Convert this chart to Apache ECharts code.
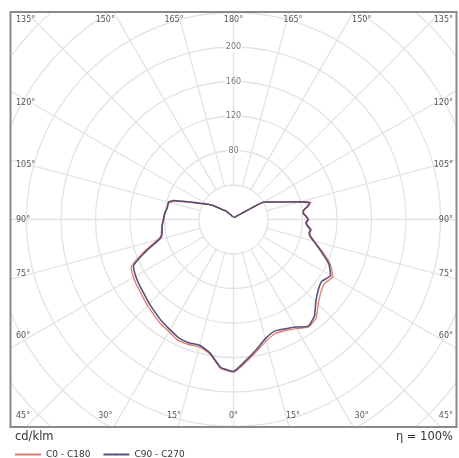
<!DOCTYPE html>
<html>
<head>
<meta charset="utf-8">
<script src="https://cdn.jsdelivr.net/npm/echarts@6/dist/echarts.min.js"></script>
<style>
  html, body { margin: 0; padding: 0; background: #fff; }
  #chart { width: 459px; height: 458px; }
</style>
</head>
<body>
<div id="chart"></div>
<script>
// Gamma angles in degrees, measured from nadir (0°) up to zenith (180°)
const gammaAngles = [0, 5, 10, 15, 20, 25, 30, 35, 40, 45, 50, 55, 60, 65, 70,
  75, 77.5, 80, 82.5, 85, 87.5, 90, 92.5, 95, 97.5, 100, 102.5, 105, 107.5, 110,
  112.5, 115, 117.5, 120, 122.5, 125, 130, 135, 140, 150, 160, 170, 180];

// Luminous intensity in cd/klm for each half-plane
const c0Values = [177, 166, 155, 146, 141, 142, 146, 152, 149, 139, 132, 129, 133, 124, 110,
  97, 92, 90, 91, 87, 85, 87, 85, 82, 82, 88, 92, 80, 68, 60,
  53, 48, 44, 40, 25, 15, 8.5, 6, 4.5, 3, 2.7, 2.5, 2.5];
const c180Values = [177, 173, 158, 153, 154, 154, 150, 147.5, 144, 141, 138, 136, 134, 131, 111,
  91, 86, 85, 84, 83.5, 82.5, 81.5, 81, 80, 79, 78, 78, 77, 70, 59,
  51, 44, 39, 35, 31, 27, 19, 15, 12, 6, 4, 3, 2.5];
const c90Values = [176, 164, 153, 143, 138, 140, 144, 151, 146, 135, 128, 125, 130, 122, 108,
  96, 91, 89, 90, 86, 84, 86.5, 84, 81, 82, 87, 90, 79, 67.5, 59.5,
  53, 48, 44, 40.5, 24, 14.5, 8.3, 6, 4.5, 3, 2.7, 2.5, 2.5];
const c270Values = [176, 172, 157, 151, 152, 151, 147.5, 144.5, 141, 138, 135, 133, 131, 128, 108,
  89, 85, 84, 83.5, 83, 82, 81, 80.5, 80, 79, 78, 78, 78, 73, 62,
  53, 45, 40, 36, 32, 28, 19, 15, 12, 6, 4, 3, 2.5];

const seriesNames = ['C0 - C180', 'C90 - C270'];
const seriesColors = ['#de7a72', '#47406f'];
const radiusTicks = [80, 120, 160, 200];
const topAngles = [135, 150, 165, 180];
const sideAngles = [120, 105, 90, 75, 60];
const bottomAngles = [45, 30, 15, 0];

// Layout
const W = 459, H = 458;
const box = { x0: 10.5, y0: 12, x1: 456.5, y1: 427 };
const cx = (box.x0 + box.x1) / 2;
const cy = (box.y0 + box.y1) / 2;
const pxPerUnit = 0.8625;
const rMax = 360;
const rOuter = rMax * pxPerUnit;
const rInner = 40 * pxPerUnit;
const lbl = { left: 16, right: 453, top: 19.5, bottom: 415.5, halfW: 202, halfH: 222 };
const labelFont = '8px "DejaVu Sans"';
const labelColor = '#555';

// Closed outline: right half (negative angle) from zenith down to nadir, then left half back up
function outline(rightVals, leftVals) {
  const pts = [];
  for (let i = gammaAngles.length - 1; i >= 0; i--) pts.push([rightVals[i], -gammaAngles[i]]);
  for (let i = 1; i < gammaAngles.length; i++) pts.push([leftVals[i], gammaAngles[i]]);
  return pts;
}

// Angle labels sit on the frame where each ray meets it
const angleLabels = [];
const deg = Math.PI / 180;
function rowLabel(g, y, fromVertical) {
  const off = lbl.halfH * Math.tan(fromVertical * deg);
  if (fromVertical === 0) {
    angleLabels.push({ text: g + '°', x: cx, y, align: 'center' });
    return;
  }
  [-1, 1].forEach(side => {
    if (fromVertical >= 45) {
      angleLabels.push({ text: g + '°', x: side < 0 ? lbl.left : lbl.right, y, align: side < 0 ? 'left' : 'right' });
    } else {
      angleLabels.push({ text: g + '°', x: cx + side * off, y, align: 'center' });
    }
  });
}
topAngles.forEach(g => rowLabel(g, lbl.top, 180 - g));
bottomAngles.forEach(g => rowLabel(g, lbl.bottom, g));
sideAngles.forEach(g => {
  const y = cy + lbl.halfW * Math.tan((90 - g) * deg);
  angleLabels.push({ text: g + '°', x: lbl.left, y, align: 'left' });
  angleLabels.push({ text: g + '°', x: lbl.right, y, align: 'right' });
});

const graphics = [
  // white frame masking the grid outside the plot box
  { type: 'rect', z: 10, silent: true, shape: { x: 0, y: 0, width: W, height: box.y0 }, style: { fill: '#fff' } },
  { type: 'rect', z: 10, silent: true, shape: { x: 0, y: box.y1, width: W, height: H - box.y1 }, style: { fill: '#fff' } },
  { type: 'rect', z: 10, silent: true, shape: { x: 0, y: 0, width: box.x0, height: H }, style: { fill: '#fff' } },
  { type: 'rect', z: 10, silent: true, shape: { x: box.x1, y: 0, width: W - box.x1, height: H }, style: { fill: '#fff' } },
  { type: 'rect', z: 11, silent: true,
    shape: { x: box.x0, y: box.y0, width: box.x1 - box.x0, height: box.y1 - box.y0 },
    style: { fill: null, stroke: '#8a8a8a', lineWidth: 2 } },
  { type: 'text', z: 12, x: 15, y: 437,
    style: { text: 'cd/klm', font: '11.5px "DejaVu Sans"', fill: '#333', textAlign: 'left', textVerticalAlign: 'middle' } },
  { type: 'text', z: 12, x: 453, y: 437,
    style: { text: 'η = 100%', font: '11.5px "DejaVu Sans"', fill: '#333', textAlign: 'right', textVerticalAlign: 'middle' } }
];
angleLabels.forEach(l => graphics.push({
  type: 'text', z: 12, x: l.x, y: l.y,
  style: { text: l.text, font: labelFont, fill: labelColor, textAlign: l.align, textVerticalAlign: 'middle' }
}));

const gridLine = { show: true, lineStyle: { color: '#e3e3e3', width: 1.3 } };
const hidden = { show: false };

const chart = echarts.init(document.getElementById('chart'), null, { renderer: 'canvas' });
chart.setOption({
  backgroundColor: '#fff',
  animation: false,
  textStyle: { fontFamily: 'DejaVu Sans' },
  polar: [
    { center: [cx, cy], radius: [rInner, rOuter] },
    { center: [cx, cy], radius: [0, rOuter] }
  ],
  angleAxis: [
    { polarIndex: 0, type: 'value', min: -180, max: 180, interval: 15, startAngle: 90, clockwise: true,
      axisLine: hidden, axisTick: hidden, axisLabel: hidden, splitLine: gridLine },
    { polarIndex: 1, type: 'value', min: -180, max: 180, interval: 15, startAngle: 90, clockwise: true,
      axisLine: hidden, axisTick: hidden, axisLabel: hidden, splitLine: hidden }
  ],
  radiusAxis: [
    { polarIndex: 0, type: 'value', min: 40, max: rMax, interval: 40,
      axisLine: hidden, axisTick: hidden, axisLabel: hidden, splitLine: gridLine },
    { polarIndex: 1, type: 'value', min: 0, max: rMax, interval: 40,
      axisLine: hidden, axisTick: hidden, axisLabel: hidden, splitLine: hidden }
  ],
  legend: {
    data: seriesNames,
    left: 9, top: 445, z: 20,
    itemWidth: 26, itemHeight: 2, itemGap: 12,
    textStyle: { fontSize: 9, color: '#333', fontFamily: 'DejaVu Sans' }
  },
  graphic: { elements: graphics },
  series: [
    {
      name: seriesNames[0], type: 'line', coordinateSystem: 'polar', polarIndex: 1,
      data: outline(c0Values, c180Values), symbol: 'none', z: 3, smooth: 0.15,
      lineStyle: { color: seriesColors[0], width: 1.3 }, itemStyle: { color: seriesColors[0] }
    },
    {
      name: seriesNames[1], type: 'line', coordinateSystem: 'polar', polarIndex: 1,
      data: outline(c90Values, c270Values), symbol: 'none', z: 4, smooth: 0.15,
      lineStyle: { color: seriesColors[1], width: 1.6, opacity: 0.9 }, itemStyle: { color: seriesColors[1] }
    },
    {
      // intensity scale values along the zenith ray
      type: 'scatter', coordinateSystem: 'polar', polarIndex: 1, z: 5, silent: true,
      symbolSize: 0,
      data: radiusTicks.map(r => [r, 180]),
      label: {
        show: true, position: 'inside', formatter: p => String(p.value[0]),
        fontSize: 8, color: '#555', backgroundColor: '#fff', padding: [0, 1]
      }
    }
  ]
});
</script>
</body>
</html>
